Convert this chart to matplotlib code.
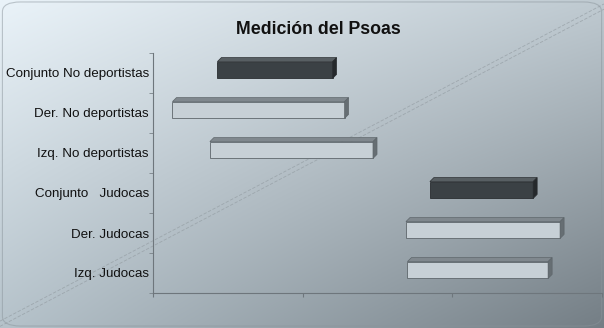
import numpy as np
import matplotlib
matplotlib.use("Agg")
import matplotlib.pyplot as plt
from matplotlib.patches import Polygon, FancyBboxPatch
from matplotlib.colors import to_rgb

# Psoas measurement ranges (min / max) per group
categories = ["Conjunto No deportistas", "Der. No deportistas", "Izq. No deportistas",
              "Conjunto   Judocas", "Der. Judocas", "Izq. Judocas"]
range_min = [4.3, 1.3, 3.8, 18.5, 16.9, 17.0]
range_max = [12.0, 12.8, 14.7, 25.4, 27.2, 26.4]
is_overall = [True, False, False, True, False, False]
x_ticks = [0, 10, 20, 30]

plt.rcParams["font.family"] = ["Liberation Sans", "DejaVu Sans"]

W, H, DPI = 604, 328, 100
fig = plt.figure(figsize=(W / DPI, H / DPI), dpi=DPI)

# background: diagonal gradient, light blue top-left to grey bottom-right
bg = fig.add_axes([0, 0, 1, 1], zorder=0)
bg.set_axis_off()
tl, tr = np.array(to_rgb("#eaf3f9")), np.array(to_rgb("#bfcad1"))
bl, br = np.array(to_rgb("#b5c2ca")), np.array(to_rgb("#747e85"))
u = np.linspace(0, 1, 300)[None, :, None]
v = np.linspace(0, 1, 200)[:, None, None]
img = (1 - v) * ((1 - u) * tl + u * tr) + v * ((1 - u) * bl + u * br)
bg.imshow(img, aspect="auto", extent=[0, 1, 0, 1], origin="upper")
bg.set_xlim(0, 1)
bg.set_ylim(0, 1)
# soft rounded frame
bg.add_patch(FancyBboxPatch((0.004, 0.006), 0.992, 0.988, boxstyle="round,pad=0,rounding_size=0.03",
                            fill=False, ec="#8a949b", lw=0.8, alpha=0.5))
# double dashed diagonal crease
for off in (0.0, 0.016):
    bg.plot([0.0, 1.0], [0.005 + off, 0.972 + off], ls=(0, (4, 2)), color="#939ca2", lw=0.6, alpha=0.7)

ax = fig.add_axes([153 / W, 1 - 293 / H, (602 - 153) / W, (293 - 53) / H], zorder=1)
ax.patch.set_alpha(0)

n = len(categories)
ypos = np.arange(n)
ax.set_xlim(x_ticks[0], x_ticks[-1])
ax.set_ylim(n - 0.5, -0.5)

bar_h = 0.42
shift = 0.075                                         # bars sit slightly above the category centre
dx = 4 / ((602 - 153) / (x_ticks[-1] - x_ticks[0]))  # depth in data units (4 px)
dy = 4 / 40.0                                         # depth in category units (4 px)

for y, lo, hi, dark in zip(ypos, range_min, range_max, is_overall):
    if dark:
        front, top, side, edge = "#3b4145", "#585f63", "#25292c", "#2a2e31"
    else:
        front, top, side, edge = "#c7d0d6", "#80888e", "#666e73", "#5e666b"
    yc = y - shift
    y0, y1 = yc - bar_h / 2, yc + bar_h / 2
    ax.barh(yc, hi - lo, left=lo, height=bar_h, color=front, edgecolor=edge, lw=0.6, zorder=3)
    ax.add_patch(Polygon([(lo, y0), (lo + dx, y0 - dy), (hi + dx, y0 - dy), (hi, y0)],
                         closed=True, fc=top, ec=edge, lw=0.5, zorder=3))
    ax.add_patch(Polygon([(hi, y0), (hi + dx, y0 - dy), (hi + dx, y1 - dy), (hi, y1)],
                         closed=True, fc=side, ec=edge, lw=0.5, zorder=3))

ax.set_yticks(ypos)
ax.set_yticklabels(categories, fontsize=9.6, color="#111111")
ax.tick_params(axis="y", length=0, pad=3)
ax.set_yticks(np.arange(-0.5, n, 1.0), minor=True)
ax.tick_params(axis="y", which="minor", length=3, color="#7a8288")

ax.set_xticks(x_ticks)
ax.set_xticklabels([])
ax.tick_params(axis="x", length=3, color="#6e767c")

for s in ("top", "right"):
    ax.spines[s].set_visible(False)
for s in ("left", "bottom"):
    ax.spines[s].set_color("#6e767c")
    ax.spines[s].set_linewidth(0.8)

fig.text(318 / W, 1 - 30 / H, "Medición del Psoas", ha="center", va="center",
         fontsize=12.8, fontweight="bold", color="#111111")

fig.savefig("out.png", dpi=DPI)
